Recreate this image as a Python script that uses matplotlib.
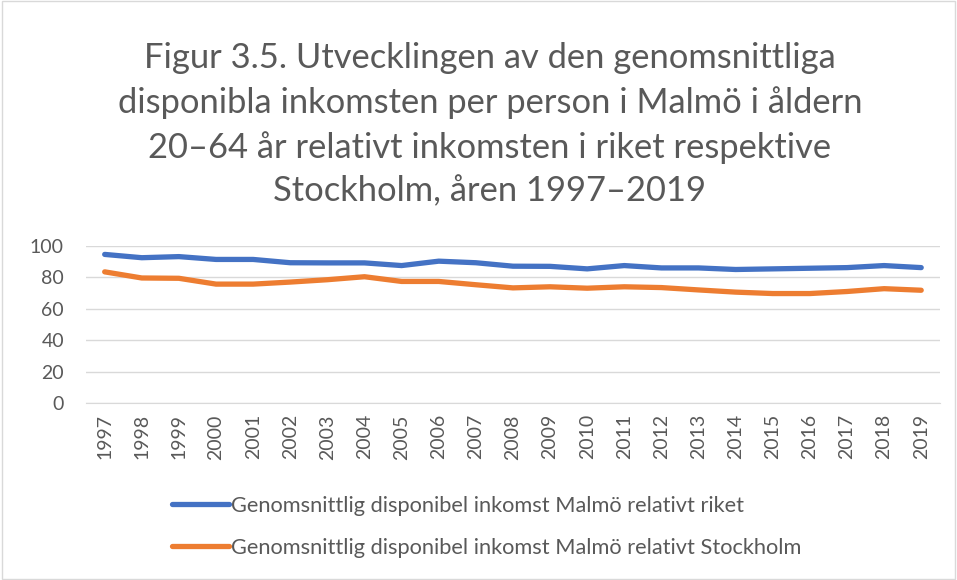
import matplotlib.pyplot as plt
import numpy as np

years = [str(y) for y in range(1997, 2020)]
riket = [94.6, 92.5, 93.2, 91.4, 91.4, 89.3, 89.2, 89.2, 87.5, 90.3, 89.3, 87.1,
         87.0, 85.4, 87.5, 86.0, 86.0, 85.0, 85.4, 85.8, 86.2, 87.5, 86.2]
stockholm = [83.5, 79.6, 79.4, 75.7, 75.7, 77.0, 78.5, 80.4, 77.4, 77.4, 75.3, 73.3,
             74.0, 73.1, 74.0, 73.5, 72.0, 70.6, 69.7, 69.7, 71.0, 72.8, 71.8]
labels = ["Genomsnittlig disponibel inkomst Malmö relativt riket",
          "Genomsnittlig disponibel inkomst Malmö relativt Stockholm"]
title = ("Figur 3.5. Utvecklingen av den genomsnittliga\n"
         "disponibla inkomsten per person i Malmö i åldern\n"
         "20–64 år relativt inkomsten i riket respektive\n"
         "Stockholm, åren 1997–2019")

plt.rcParams['font.family'] = ['Lato', 'DejaVu Sans']
grey = '#595959'

fig = plt.figure(figsize=(9.57, 5.8), dpi=100)
ax = fig.add_axes([0.09, 0.305, 0.892, 0.271])

x = np.arange(len(years))
ax.plot(x, riket, color='#4472c4', lw=3.8, label=labels[0], solid_capstyle='round')
ax.plot(x, stockholm, color='#ed7d31', lw=3.8, label=labels[1], solid_capstyle='round')

ax.set_ylim(0, 100)
ax.set_yticks(range(0, 101, 20))
ax.set_xlim(-0.5, len(years) - 0.5)
ax.set_xticks(x)
ax.set_xticklabels(years, rotation=90)
ax.grid(axis='y', color='#d9d9d9', lw=1)
ax.set_axisbelow(True)
for s in ['top', 'right', 'left']:
    ax.spines[s].set_visible(False)
ax.spines['bottom'].set_color('#d9d9d9')
ax.tick_params(length=0, labelsize=14, colors=grey)
ax.tick_params(axis='y', pad=16)
ax.tick_params(axis='x', pad=8)

fig.suptitle(title, x=0.512, y=0.928, fontsize=24.8, color=grey, linespacing=1.45)

fig.legend(loc='upper left', bbox_to_anchor=(0.171, 0.16), borderaxespad=0, frameon=False,
           fontsize=15.7, labelcolor=grey, handlelength=2.6, handletextpad=0.1,
           labelspacing=1.0)

fig.patches.append(plt.Rectangle((0.002, 0.002), 0.996, 0.996, transform=fig.transFigure,
                                 fill=False, edgecolor='#d9d9d9', lw=1))
fig.savefig('out.png', dpi=100)
